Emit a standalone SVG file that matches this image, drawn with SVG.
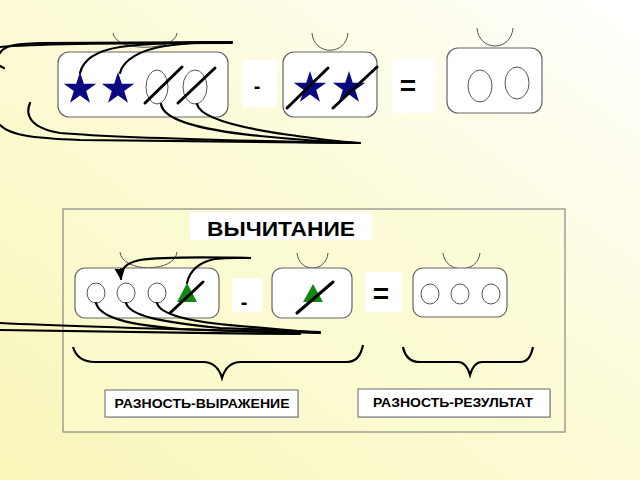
<svg xmlns="http://www.w3.org/2000/svg" width="640" height="480" viewBox="0 0 640 480">
<defs>
<linearGradient id="bg" x1="0" y1="1" x2="1" y2="0">
<stop offset="0" stop-color="#f8f6b8"/>
<stop offset="0.55" stop-color="#fcfbd8"/>
<stop offset="1" stop-color="#ffffff"/>
</linearGradient>
<polygon id="star" points="0,-17 3.8,-5.3 16.2,-5.3 6.2,2 10,13.8 0,6.5 -10,13.8 -6.2,2 -16.2,-5.3 -3.8,-5.3"/>
<marker id="ah" viewBox="0 0 10 10" refX="8" refY="5" markerWidth="6" markerHeight="6" orient="auto">
<path d="M0,1 L9,5 L0,9 Z" fill="#000"/>
</marker>
<style>
.box{fill:#fff;stroke:#666;stroke-width:1.2}
.op{fill:#fff;stroke:none}
.handle{fill:none;stroke:#555;stroke-width:1}
.ov{fill:none;stroke:#555;stroke-width:1}
.slash{stroke:#000;stroke-width:3;stroke-linecap:round}
.st{fill:#0a0a80}
.tri{fill:#118811}
.path{fill:none;stroke:#000;stroke-width:2.2;stroke-linecap:round}
.brace{fill:none;stroke:#000;stroke-width:2.2}
.t{font-family:"Liberation Sans",Arial,sans-serif;font-weight:bold;fill:#000;text-anchor:middle}
.lbl{fill:#fff;stroke:#808080;stroke-width:1.2}
</style>
</defs>
<rect x="0" y="0" width="640" height="480" fill="url(#bg)"/>
<rect x="63" y="209" width="502" height="223" fill="#fcfbd4" fill-opacity="0.5" stroke="#888" stroke-width="1.2"/>

<g id="box1">
<path class="handle" d="M113,33 C115,52 175,52 177,33"/>
<rect class="box" x="58" y="52" width="170" height="65" rx="11"/>
<use href="#star" class="st" x="80" y="89"/>
<use href="#star" class="st" x="118" y="89"/>
<ellipse class="ov" cx="157" cy="87" rx="11" ry="17"/>
<ellipse class="ov" cx="195" cy="87" rx="12" ry="17"/>
<line class="slash" x1="145" y1="103" x2="182" y2="67"/>
<line class="slash" x1="178" y1="103" x2="215" y2="68"/>
</g>
<g id="minus1">
<rect class="op" x="242" y="60" width="35" height="47"/>
<text class="t" x="257" y="93" font-size="20">-</text>
</g>
<g id="box2">
<path class="handle" d="M312,33 C314,56 346,56 348,33"/>
<rect class="box" x="283" y="52" width="94" height="65" rx="11"/>
<use href="#star" class="st" x="310" y="88"/>
<use href="#star" class="st" x="349" y="88"/>
<line class="slash" x1="287" y1="108" x2="328" y2="68"/>
<line class="slash" x1="333" y1="108" x2="377" y2="67"/>
</g>
<g id="eq1">
<rect class="op" x="392" y="58" width="43" height="55"/>
<text class="t" x="408" y="95" font-size="28">=</text>
</g>
<g id="box3">
<path class="handle" d="M477,28 C479,52 511,52 513,28"/>
<rect class="box" x="447" y="48" width="95" height="65" rx="11"/>
<ellipse class="ov" cx="480" cy="86" rx="12" ry="16"/>
<ellipse class="ov" cx="517" cy="83" rx="12" ry="16"/>
</g>

<g id="title">
<rect class="op" x="190" y="212" width="182" height="28"/>
<text class="t" x="281" y="236" font-size="21" textLength="148" lengthAdjust="spacingAndGlyphs">ВЫЧИТАНИЕ</text>
</g>

<g id="boxA">
<path class="handle" d="M120,252 C122,273 175,273 177,252"/>
<rect class="box" x="75" y="268" width="144" height="50" rx="10"/>
<ellipse class="ov" cx="96" cy="293" rx="9" ry="10"/>
<ellipse class="ov" cx="126" cy="293" rx="9" ry="10"/>
<ellipse class="ov" cx="157" cy="293" rx="9" ry="10"/>
<polygon class="tri" points="187,283 197,302 177,302"/>
<line class="slash" x1="170" y1="313" x2="203" y2="282"/>
</g>
<g id="minus2">
<rect class="op" x="232" y="278" width="30" height="34"/>
<text class="t" x="244" y="309" font-size="20">-</text>
</g>
<g id="boxB">
<path class="handle" d="M297,253 C299,273 326,273 328,253"/>
<rect class="box" x="272" y="268" width="80" height="50" rx="10"/>
<polygon class="tri" points="313,284 323,302 303,302"/>
<line class="slash" x1="297" y1="313" x2="333" y2="282"/>
</g>
<g id="eq2">
<rect class="op" x="365" y="272" width="37" height="40"/>
<text class="t" x="381" y="303" font-size="28">=</text>
</g>
<g id="boxC">
<path class="handle" d="M443,253 C445,274 478,274 480,253"/>
<rect class="box" x="413" y="268" width="94" height="49" rx="10"/>
<ellipse class="ov" cx="430" cy="294" rx="9" ry="10"/>
<ellipse class="ov" cx="460" cy="294" rx="9" ry="10"/>
<ellipse class="ov" cx="491" cy="294" rx="9" ry="10"/>
</g>

<g id="braces">
<path class="brace" d="M73,347 C76,357 83,362 95,362 L203,362 C213,362 219,368 222,378 C225,368 231,362 241,362 L347,362 C357,362 361,355 363,345"/>
<path class="brace" d="M403,347 C405,357 410,362 420,362 L458,362 C465,362 468,368 470,375 C472,368 475,362 482,362 L520,362 C528,362 531,356 533,347"/>
</g>
<g id="label1">
<rect x="106" y="391" width="193" height="27" fill="#c8c8c8"/>
<rect class="lbl" x="105" y="390" width="193" height="27"/>
<text class="t" x="202" y="408" font-size="12.5" textLength="175" lengthAdjust="spacingAndGlyphs">РАЗНОСТЬ-ВЫРАЖЕНИЕ</text>
</g>
<g id="label2">
<rect x="359" y="390" width="192" height="28" fill="#c8c8c8"/>
<rect class="lbl" x="358" y="389" width="192" height="28"/>
<text class="t" x="453" y="407" font-size="12.5" textLength="160" lengthAdjust="spacingAndGlyphs">РАЗНОСТЬ-РЕЗУЛЬТАТ</text>
</g>

<g id="connectors">
<path class="path" d="M0,53 C4,46 12,44 40,43 L232,42"/>
<path class="path" d="M0,47 C30,44 120,43 232,43"/>
<path class="path" d="M80,73 C83,60 95,51 120,47 C150,43 185,42 232,42"/>
<path class="path" d="M120,73 C123,60 140,50 165,46 C185,43 205,42 232,42"/>
<path class="path" d="M0,66 L4,68"/>
<path class="path" d="M161,104 C163,120 200,130 260,136 C300,140 330,142 360,143"/>
<path class="path" d="M197,104 C200,118 240,128 290,135 C320,139 340,142 360,143"/>
<path class="path" d="M30,103 C25,115 30,128 60,133 C120,138 250,141 360,143"/>
<path class="path" d="M0,125 C10,135 30,138 80,140 L355,143"/>
<path class="path" marker-end="url(#ah)" d="M250,258 C200,257 160,257 140,260 C125,263 120,270 121,279"/>
<path class="path" d="M187,283 C190,270 200,262 215,259 C230,257 240,258 250,258"/>
<path class="path" d="M0,323 C60,326 200,330 320,333"/>
<path class="path" d="M0,330 C80,332 200,333 300,334"/>
<path class="path" d="M96,303 C100,318 130,325 180,329 L300,333"/>
<path class="path" d="M126,303 C130,316 160,322 220,328 L320,332"/>
<path class="path" d="M157,303 C160,315 190,322 240,326 L320,333"/>
</g>
</svg>
